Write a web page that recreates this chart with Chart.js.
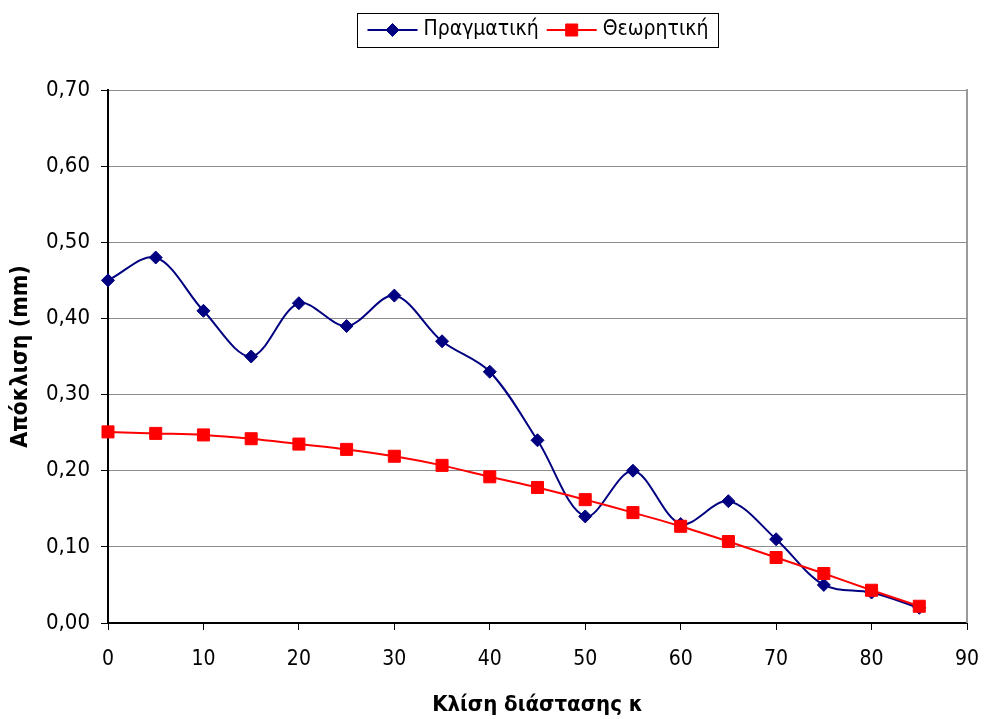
<!DOCTYPE html>
<html>
<head>
<meta charset="utf-8">
<script src="https://cdn.jsdelivr.net/npm/chart.js@4.4.1/dist/chart.umd.min.js"></script>
<style>
  html, body { margin: 0; padding: 0; background: #ffffff; }
  #wrap { width: 984px; height: 719px; }
</style>
</head>
<body>
<div id="wrap"><canvas id="chart" width="984" height="719"></canvas></div>
<script>
// Inclination of the dimension (κ) and the measured / theoretical deviation in mm
const kappa = [0, 5, 10, 15, 20, 25, 30, 35, 40, 45, 50, 55, 60, 65, 70, 75, 80, 85];
const actual = [0.45, 0.48, 0.41, 0.35, 0.42, 0.39, 0.43, 0.37, 0.33, 0.24, 0.14, 0.20, 0.13, 0.16, 0.11, 0.05, 0.04, 0.02];
const theoretical = [0.251, 0.249, 0.247, 0.242, 0.235, 0.228, 0.219, 0.207, 0.192, 0.178, 0.162, 0.145, 0.127, 0.107, 0.086, 0.065, 0.043, 0.022];
const seriesNames = ['Πραγματική', 'Θεωρητική'];
const xAxisTitle = 'Κλίση διάστασης κ';
const yAxisTitle = 'Απόκλιση (mm)';

const FONT = '"DejaVu Sans Condensed", "DejaVu Sans", sans-serif';
const NAVY = '#000080';
const RED = '#ff0000';

const toPoints = (ys) => kappa.map((k, i) => ({ x: k, y: ys[i] }));

// Boxed legend at the top: a short line with the series marker, then the name
const boxedLegend = {
  id: 'boxedLegend',
  afterDraw(chart) {
    const ctx = chart.ctx;
    const area = chart.chartArea;
    const sets = chart.data.datasets;
    ctx.save();
    ctx.font = '21px ' + FONT;
    ctx.textBaseline = 'middle';
    const lineLen = 50, gap = 6, between = 8, padX = 10;
    const widths = sets.map(ds => ctx.measureText(ds.label).width);
    let total = padX * 2 + between * (sets.length - 1);
    widths.forEach(w => { total += lineLen + gap + w; });
    const cx = (area.left + area.right) / 2;
    const left = Math.round(cx - total / 2) + 0.5;
    const top = 13.5, h = 34, midY = 30;
    ctx.strokeStyle = '#000000';
    ctx.lineWidth = 1;
    ctx.strokeRect(left, top, Math.round(total), h);
    let x = left + padX;
    sets.forEach((ds, i) => {
      ctx.strokeStyle = ds.borderColor;
      ctx.lineWidth = 2;
      ctx.beginPath();
      ctx.moveTo(x, midY);
      ctx.lineTo(x + lineLen, midY);
      ctx.stroke();
      ctx.fillStyle = ds.pointBackgroundColor;
      ctx.strokeStyle = ds.pointBorderColor;
      ctx.lineWidth = 1;
      Chart.helpers.drawPoint(ctx, { pointStyle: ds.pointStyle, radius: ds.pointRadius, rotation: 0, borderWidth: 1 }, x + lineLen / 2, midY);
      ctx.fillStyle = '#000000';
      ctx.textAlign = 'left';
      ctx.fillText(ds.label, x + lineLen + gap, midY);
      x += lineLen + gap + widths[i] + between;
    });
    ctx.restore();
  }
};

// Grey frame line on the right edge of the plot area
const plotFrame = {
  id: 'plotFrame',
  beforeDatasetsDraw(chart) {
    const { ctx, chartArea } = chart;
    ctx.save();
    ctx.strokeStyle = '#9a9a9a';
    ctx.lineWidth = 2;
    ctx.beginPath();
    ctx.moveTo(chartArea.right, chartArea.top - 1);
    ctx.lineTo(chartArea.right, chartArea.bottom);
    ctx.stroke();
    ctx.restore();
  }
};

new Chart(document.getElementById('chart'), {
  type: 'line',
  data: {
    datasets: [
      {
        label: seriesNames[0],
        data: toPoints(actual),
        borderColor: NAVY,
        backgroundColor: NAVY,
        pointBackgroundColor: NAVY,
        pointBorderColor: NAVY,
        pointStyle: 'rectRot',
        pointRadius: 6.5,
        pointBorderWidth: 1,
        borderWidth: 2,
        tension: 0.33,
        clip: false,
        order: 1
      },
      {
        label: seriesNames[1],
        data: toPoints(theoretical),
        borderColor: RED,
        backgroundColor: RED,
        pointBackgroundColor: RED,
        pointBorderColor: RED,
        pointStyle: 'rect',
        pointRadius: 8.5,
        pointBorderWidth: 1,
        borderWidth: 2,
        tension: 0.33,
        clip: false,
        order: 0
      }
    ]
  },
  options: {
    responsive: false,
    animation: false,
    devicePixelRatio: 1,
    layout: { padding: { top: 90, right: 17, left: 0, bottom: 0 } },
    plugins: {
      legend: { display: false },
      tooltip: { enabled: false }
    },
    scales: {
      x: {
        type: 'linear',
        min: 0,
        max: 90,
        ticks: {
          stepSize: 10,
          color: '#000000',
          font: { family: FONT, size: 21 },
          padding: 17,
          maxRotation: 0
        },
        grid: {
          drawOnChartArea: false,
          drawTicks: true,
          tickLength: 7,
          tickColor: '#000000',
          tickWidth: 1
        },
        border: { color: '#000000', width: 2 },
        title: {
          display: true,
          text: xAxisTitle,
          color: '#000000',
          font: { family: FONT, size: 22, weight: 'bold' },
          padding: { top: 0, bottom: 1 }
        },
        afterFit(scale) {
          scale.height = 96;
          scale.paddingLeft = 0;
          scale.paddingRight = 0;
        }
      },
      y: {
        min: 0,
        max: 0.7,
        ticks: {
          stepSize: 0.1,
          color: '#000000',
          font: { family: FONT, size: 22 },
          padding: 11,
          callback: (v) => Number(v).toFixed(2).replace('.', ',')
        },
        grid: {
          color: '#8c8c8c',
          lineWidth: 1,
          tickLength: 7,
          tickColor: '#000000',
          tickWidth: 1
        },
        border: { color: '#000000', width: 2 },
        title: {
          display: true,
          text: yAxisTitle,
          color: '#000000',
          font: { family: FONT, size: 23, weight: 'bold' },
          padding: { top: 7, bottom: 0 }
        },
        afterFit(scale) {
          scale.width = 108;
          scale.paddingTop = 0;
          scale.paddingBottom = 0;
        }
      }
    }
  },
  plugins: [plotFrame, boxedLegend]
});
</script>
</body>
</html>
